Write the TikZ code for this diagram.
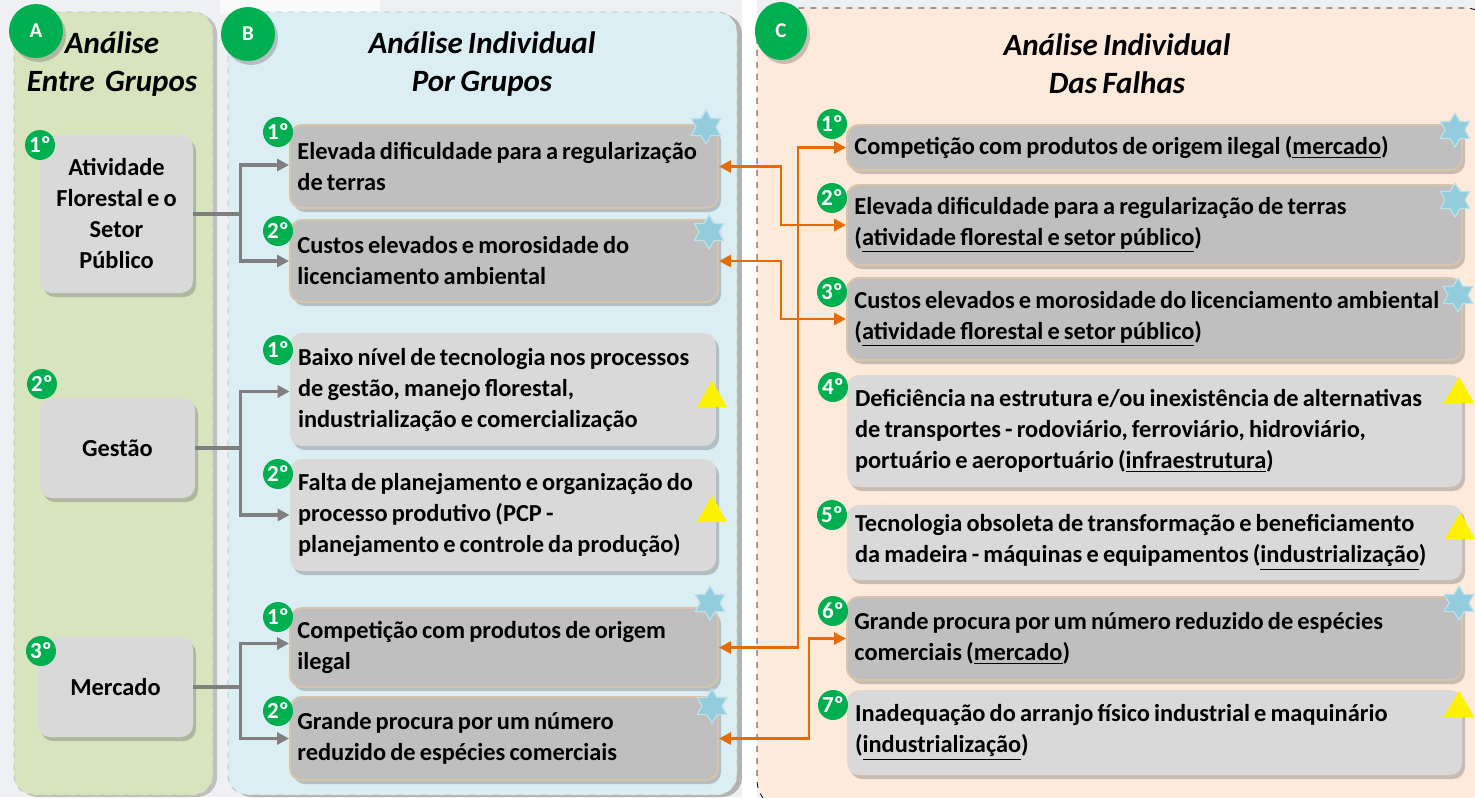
\documentclass[tikz,border=0pt]{standalone}
\usepackage{fontspec}
\setmainfont{Carlito}[WordSpace=0.75]
\usetikzlibrary{shapes.geometric,arrows.meta,fit,shadows}
\definecolor{bgc}{HTML}{EEF0F3}
\definecolor{pgreen}{HTML}{D7E4BD}
\definecolor{pblue}{HTML}{DBEEF4}
\definecolor{ppeach}{HTML}{FDEADA}
\definecolor{bgreen}{HTML}{00B050}
\definecolor{bdark}{HTML}{BFBFBF}
\definecolor{blight}{HTML}{D9D9D9}
\definecolor{btan}{RGB}{214,196,172}
\definecolor{orng}{HTML}{E36C09}
\definecolor{garr}{HTML}{7F7F7F}
\definecolor{starc}{HTML}{93CDDD}
\tikzset{
  panel/.style={rounded corners=10pt, dashed, line width=0.4pt},
  boxbase/.style={rounded corners=6pt, inner sep=0pt,
     drop shadow={shadow xshift=1.5pt, shadow yshift=-2pt, opacity=0.35, fill=black!60}},
  boxdark/.style={boxbase, fill=bdark, draw=btan, line width=1pt},
  boxlight/.style={boxbase, fill=blight, draw=none},
  txt/.style={inner sep=0pt, align=flush left, anchor=west, font=\bfseries\fontsize{12.2}{15.5}\selectfont},
  txtA/.style={align=center, inner sep=0pt, font=\bfseries\fontsize{12.2}{15.5}\selectfont},
  badge/.style={circle, fill=bgreen, text=white, minimum size=15pt, inner sep=0pt,
     font=\bfseries\fontsize{11.5}{11.5}\selectfont},
  bigbadge/.style={circle, fill=bgreen, text=white, minimum size=27pt, inner sep=0pt,
     font=\bfseries\fontsize{10.5}{10.5}\selectfont,
     drop shadow={shadow xshift=1.5pt, shadow yshift=-2pt, opacity=0.35, fill=black!60}},
  head/.style={align=center, font=\bfseries\itshape\fontsize{15.5}{19}\selectfont},
  starmark/.style={star, star points=6, star point ratio=1.7, fill=starc, draw=starc!60!white, line width=0.6pt, minimum size=17pt, inner sep=0pt},
  trimark/.style={regular polygon, regular polygon sides=3, fill=yellow, minimum size=17.5pt, inner sep=0pt, anchor=corner 1},
  garrow/.style={draw=garr, line width=1.8pt, -{Triangle[length=6pt,width=6pt]}},
  gline/.style={draw=garr, line width=1.8pt},
  oarrow/.style={draw=orng, line width=1.4pt, {Triangle[length=6pt,width=6pt]}-{Triangle[length=6pt,width=6pt]}},
}
\begin{document}
\begin{tikzpicture}[x=0.5pt,y=-0.5pt]
\useasboundingbox (0,0) rectangle (1475,797);
\clip (0,0) rectangle (1475,797);
\fill[bgc] (0,0) rectangle (1475,797);
\fill[white!70!bgc] (220,0) rectangle (380,14);
% panels
\fill[black!25, rounded corners=10pt] (18,14) rectangle (217,797);
\path[panel, fill=pgreen, draw=black!25] (14,12) rectangle (213,795);
\fill[black!30, rounded corners=10pt] (232,14) rectangle (742,797);
\path[panel, fill=pblue, draw=black!25] (228,12) rectangle (737,795);
\fill[white] (742,0) rectangle (757,797);
\path[panel, fill=ppeach, draw=black, rounded corners=15pt] (757,8) rectangle (1495,810);
% panel letters
\node[bigbadge] (pa) at (36,31) {A};
\node[bigbadge] (pb) at (248,34) {B};
\node[bigbadge, ellipse, minimum width=26pt, minimum height=29pt] (pc) at (781,31) {C};
% headers
\node[head] (ha) at (112,64) {Análise\\Entre\ \ Grupos};
\node[head] (hb) at (482,64) {Análise Individual\\Por Grupos};
\node[head] (hc) at (1117,64) {Análise Individual\\Das Falhas};
% column A
\node[boxlight, fit={(40,135) (193,293)}] (a1) {};
\node[boxlight, fit={(40,398) (195,498)}] (a2) {};
\node[boxlight, fit={(38,637) (193,737)}] (a3) {};
\node[txtA] (a1t) at (a1.center) {Atividade\\Florestal e o\\Setor\\Público};
\node[txtA] (a2t) at (a2.center) {Gestão};
\node[txtA] (a3t) at (a3.center) {Mercado};
\node[badge] (ka1) at (40,145) {1º};
\node[badge] (ka2) at (42,384) {2º};
\node[badge] (ka3) at (41,651) {3º};
% column B
\node[boxdark, fit={(290,125) (718,208)}] (b1) {};
\node[boxdark, fit={(290,220) (718,302)}] (b2) {};
\node[boxlight, fit={(290,333) (716,446)}] (b3) {};
\node[boxlight, fit={(290,459) (716,571)}] (b4) {};
\node[boxdark, fit={(290,608) (718,687)}] (b5) {};
\node[boxdark, fit={(290,697) (718,780)}] (b6) {};
\node[txt] (b1t) at ([xshift=4pt]b1.west) {Elevada dificuldade para a regularização\\de terras};
\node[txt] (b2t) at ([xshift=4pt]b2.west) {Custos elevados e morosidade do\\licenciamento ambiental};
\node[txt] (b3t) at ([xshift=4pt]b3.west) {Baixo nível de tecnologia nos processos\\de gestão, manejo florestal,\\industrialização e comercialização};
\node[txt] (b4t) at ([xshift=4pt]b4.west) {Falta de planejamento e organização do\\processo produtivo (PCP -\\planejamento e controle da produção)};
\node[txt] (b5t) at ([xshift=4pt]b5.west) {Competição com produtos de origem\\ilegal};
\node[txt] (b6t) at ([xshift=4pt]b6.west) {Grande procura por um número\\reduzido de espécies comerciais};
\node[badge] (kb1) at (278,132) {1º};
\node[badge] (kb2) at (278,231) {2º};
\node[badge] (kb3) at (278,350) {1º};
\node[badge] (kb4) at (278,474) {2º};
\node[badge] (kb5) at (278,617) {1º};
\node[badge] (kb6) at (278,711) {2º};
\node[starmark] (sb1) at (706,127) {};
\node[starmark] (sb2) at (709,232) {};
\node[starmark] (sb5) at (710,603) {};
\node[starmark] (sb6) at (712,706) {};
\node[trimark] (tb3) at (712,380) {};
\node[trimark] (tb4) at (712,495) {};
% column C
\node[boxdark, fit={(847,125) (1462,170)}] (c1) {};
\node[boxdark, fit={(847,185) (1462,265)}] (c2) {};
\node[boxdark, fit={(847,278) (1462,360)}] (c3) {};
\node[boxlight, fit={(847,375) (1462,487)}] (c4) {};
\node[boxlight, fit={(847,505) (1462,580)}] (c5) {};
\node[boxdark, fit={(847,597) (1462,680)}] (c6) {};
\node[boxlight, fit={(847,690) (1462,775)}] (c7) {};
\node[txt] (c1t) at ([xshift=4pt]c1.west) {Competição com produtos de origem ilegal (\underline{mercado})};
\node[txt] (c2t) at ([xshift=4pt]c2.west) {Elevada dificuldade para a regularização de terras\\(\underline{atividade florestal e setor público})};
\node[txt] (c3t) at ([xshift=4pt]c3.west) {Custos elevados e morosidade do licenciamento ambiental\\(\underline{atividade florestal e setor público})};
\node[txt] (c4t) at ([xshift=4pt]c4.west) {Deficiência na estrutura e/ou inexistência de alternativas\\de transportes - rodoviário, ferroviário, hidroviário,\\portuário e aeroportuário (\underline{infraestrutura})};
\node[txt] (c5t) at ([xshift=4pt]c5.west) {Tecnologia obsoleta de transformação e beneficiamento\\da madeira - máquinas e equipamentos (\underline{industrialização})};
\node[txt] (c6t) at ([xshift=4pt]c6.west) {Grande procura por um número reduzido de espécies\\comerciais (\underline{mercado})};
\node[txt] (c7t) at ([xshift=4pt]c7.west) {Inadequação do arranjo físico industrial e maquinário\\(\underline{industrialização})};
\node[badge] (kc1) at (832,124) {1º};
\node[badge] (kc2) at (832,198) {2º};
\node[badge] (kc3) at (832,292) {3º};
\node[badge] (kc4) at (833,387) {4º};
\node[badge] (kc5) at (832,515) {5º};
\node[badge] (kc6) at (833,611) {6º};
\node[badge] (kc7) at (833,705) {7º};
\node[starmark] (sc1) at (1455,130) {};
\node[starmark] (sc2) at (1455,200) {};
\node[starmark] (sc3) at (1458,295) {};
\node[starmark] (sc6) at (1459,603) {};
\node[trimark] (tc4) at (1459,376) {};
\node[trimark] (tc5) at (1460,512) {};
\node[trimark] (tc7) at (1459,690) {};
% gray connectors
\draw[gline] (a1.east) -- ++(47,0) coordinate (ja1);
\draw[garrow] (ja1) |- ([yshift=0.75pt]b1.west);
\draw[garrow] (ja1) |- (b2.west);
\draw[gline] (a2.east) -- ++(45,0) coordinate (ja2);
\draw[garrow] (ja2) |- ([yshift=-1pt]b3.west);
\draw[garrow] (ja2) |- (b4.west);
\draw[gline] (a3.east) -- ++(47,0) coordinate (ja3);
\draw[garrow] (ja3) |- ([yshift=2pt]b5.west);
\draw[garrow] (ja3) |- (b6.west);
% orange connectors
\draw[oarrow] (b1.east) -- ++(62,0) |- (c2.west);
\draw[oarrow] (b2.east) -- ++(62,0) |- (c3.west);
\draw[oarrow] (b5.east) -- ++(79,0) |- (c1.west);
\draw[oarrow] (b6.east) -- ++(90,0) |- (c6.west);
\end{tikzpicture}
\end{document}
